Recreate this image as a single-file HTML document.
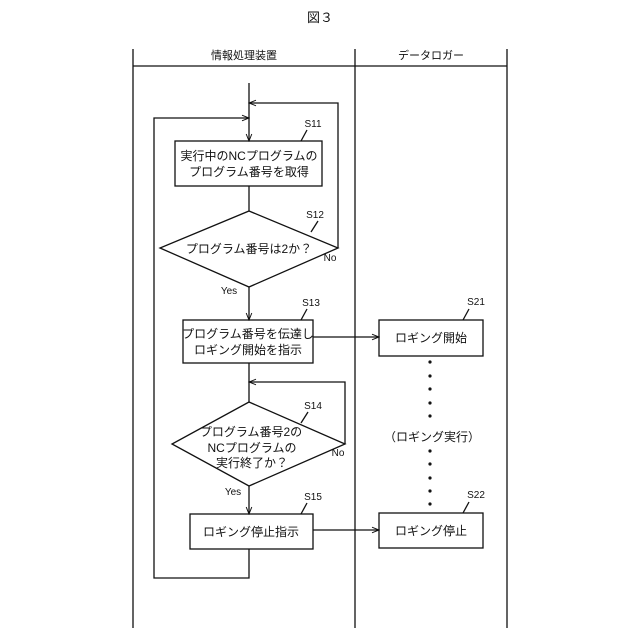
<!DOCTYPE html>
<html><head><meta charset="utf-8"><style>
html,body{margin:0;padding:0;background:#fff;}
svg{display:block;}
text{font-family:"Liberation Sans","Noto Sans CJK JP",sans-serif;fill:#111;}
</style></head><body>
<svg width="640" height="640" viewBox="0 0 640 640" xmlns="http://www.w3.org/2000/svg">
<defs>
<marker id="a" viewBox="0 0 10 10" refX="10" refY="5" markerWidth="9" markerHeight="7" orient="auto" markerUnits="userSpaceOnUse">
<path d="M0,1 L10,5 L0,9" fill="none" stroke="#111" stroke-width="1.4"/>
</marker>
</defs>
<g stroke="#111" stroke-width="1.3" fill="none">
<!-- swimlanes -->
<line x1="133" y1="49" x2="133" y2="628"/>
<line x1="355" y1="49" x2="355" y2="628"/>
<line x1="507" y1="49" x2="507" y2="628"/>
<line x1="133" y1="66" x2="507" y2="66"/>
<!-- main flow -->
<line x1="249" y1="83" x2="249" y2="141" marker-end="url(#a)"/>
<polyline points="338,248 338,103 249,103" marker-end="url(#a)"/>
<polyline points="249,549 249,578 154,578 154,118 249,118" marker-end="url(#a)"/>
<rect x="175" y="141" width="147" height="45"/>
<line x1="249" y1="186" x2="249" y2="211"/>
<polygon points="249,211 338,248 249,287 160,248"/>
<line x1="249" y1="287" x2="249" y2="320" marker-end="url(#a)"/>
<rect x="183" y="320" width="130" height="43"/>
<line x1="313" y1="337" x2="379" y2="337" marker-end="url(#a)"/>
<line x1="249" y1="363" x2="249" y2="402"/>
<polyline points="345,444 345,382 249,382" marker-end="url(#a)"/>
<polygon points="249,402 345,444 249,486 172,444"/>
<line x1="249" y1="486" x2="249" y2="514" marker-end="url(#a)"/>
<rect x="190" y="514" width="123" height="35"/>
<line x1="313" y1="530" x2="379" y2="530" marker-end="url(#a)"/>
<rect x="379" y="320" width="104" height="36"/>
<rect x="379" y="513" width="104" height="35"/>
<!-- leaders -->
<line x1="301" y1="141" x2="307" y2="130"/>
<line x1="311" y1="232" x2="318" y2="221"/>
<line x1="301" y1="320" x2="307" y2="309"/>
<line x1="301" y1="423" x2="308" y2="412"/>
<line x1="301" y1="514" x2="307" y2="503"/>
<line x1="463" y1="320" x2="469" y2="309"/>
<line x1="463" y1="513" x2="469" y2="502"/>
</g>
<g fill="#111">
<circle cx="430" cy="362" r="1.6"/><circle cx="430" cy="376" r="1.6"/><circle cx="430" cy="389" r="1.6"/><circle cx="430" cy="403" r="1.6"/><circle cx="430" cy="416" r="1.6"/>
<circle cx="430" cy="451" r="1.6"/><circle cx="430" cy="464" r="1.6"/><circle cx="430" cy="478" r="1.6"/><circle cx="430" cy="491" r="1.6"/><circle cx="430" cy="504" r="1.6"/>
</g>
<text x="320" y="22" font-size="13" text-anchor="middle">図３</text>
<text x="244" y="59" font-size="11" text-anchor="middle">情報処理装置</text>
<text x="431" y="59" font-size="11" text-anchor="middle">データロガー</text>
<g font-size="12" text-anchor="middle">
<text x="249" y="160">実行中のNCプログラムの</text>
<text x="249" y="176">プログラム番号を取得</text>
<text x="249" y="253">プログラム番号は2か？</text>
<text x="248" y="338">プログラム番号を伝達し</text>
<text x="248" y="354">ロギング開始を指示</text>
<text x="251" y="436">プログラム番号2の</text>
<text x="252" y="452">NCプログラムの</text>
<text x="252" y="467">実行終了か？</text>
<text x="251" y="536">ロギング停止指示</text>
<text x="431" y="342">ロギング開始</text>
<text x="431" y="535">ロギング停止</text>
<text x="432" y="441">（ロギング実行）</text>
</g>
<g font-size="10" text-anchor="middle">
<text x="313" y="127">S11</text>
<text x="315" y="218">S12</text>
<text x="311" y="306">S13</text>
<text x="313" y="409">S14</text>
<text x="313" y="500">S15</text>
<text x="476" y="305">S21</text>
<text x="476" y="498">S22</text>
<text x="330" y="261">No</text>
<text x="338" y="456">No</text>
<text x="229" y="294">Yes</text>
<text x="233" y="495">Yes</text>
</g>
</svg>
</body></html>
